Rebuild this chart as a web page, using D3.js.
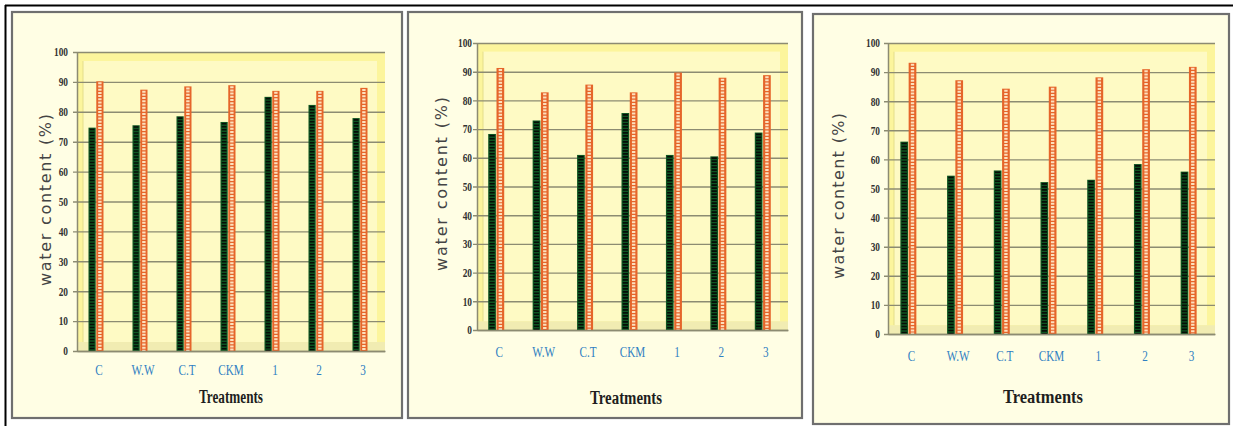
<!DOCTYPE html>
<html>
<head>
<meta charset="utf-8">
<script src="https://cdn.jsdelivr.net/npm/d3@7"></script>
<style>
  body { margin: 0; background: #ffffff; }
  svg { display: block; }
</style>
</head>
<body>
<svg id="chart" width="1233" height="426"></svg>
<script>
// Treatments on the x axis, shared by the three panels
const categories = ["C", "W.W", "C.T", "CKM", "1", "2", "3"];
const yTicks = [0, 10, 20, 30, 40, 50, 60, 70, 80, 90, 100];
const seriesKeys = ["green", "orange"];

// Water content (%) per treatment, one pair of series per panel
const greenP1  = [74.7, 75.5, 78.5, 76.6, 85.0, 82.3, 77.9];
const orangeP1 = [90.2, 87.4, 88.5, 88.9, 87.0, 87.0, 88.0];
const greenP2  = [68.3, 73.0, 61.0, 75.6, 61.0, 60.5, 68.8];
const orangeP2 = [91.3, 82.8, 85.5, 82.8, 89.7, 87.9, 88.8];
const greenP3  = [66.1, 54.4, 56.2, 52.2, 53.0, 58.4, 55.8];
const orangeP3 = [93.2, 87.2, 84.3, 85.0, 88.2, 91.0, 91.8];

const yTitle = "water content (%)";
const xTitle = "Treatments";

// Panel layout: frame box, plot box and label placement
const panels = [
  { frame: [12, 12, 402, 418], plot: { left: 77, right: 385, top: 52, bottom: 351 },
    green: greenP1, orange: orangeP1, yTitleX: 45, yTitleY: 200, yTitleLen: 172,
    xLabelY: 370, titleX: 231, titleY: 403, titleLen: 64, tickGap: 9, barW: 7 },
  { frame: [408, 12, 802, 418], plot: { left: 477, right: 788, top: 43, bottom: 330 },
    green: greenP2, orange: orangeP2, yTitleX: 441, yTitleY: 184, yTitleLen: 174,
    xLabelY: 352, titleX: 626, titleY: 404, titleLen: 72, tickGap: 5, barW: 7.5 },
  { frame: [813, 14, 1229, 424], plot: { left: 888, right: 1215, top: 43, bottom: 334 },
    green: greenP3, orange: orangeP3, yTitleX: 838, yTitleY: 196, yTitleLen: 166,
    xLabelY: 356, titleX: 1043, titleY: 403, titleLen: 80, tickGap: 8, barW: 7.5 }
];

const svg = d3.select("#chart");

// outer black frame lines (top and left)
svg.append("line").attr("x1", 5).attr("x2", 1233).attr("y1", 5.5).attr("y2", 5.5)
  .attr("stroke", "#000").attr("stroke-width", 2);
svg.append("line").attr("x1", 5.5).attr("x2", 5.5).attr("y1", 5).attr("y2", 426)
  .attr("stroke", "#000").attr("stroke-width", 2);

panels.forEach((p, i) => {
  const g = svg.append("g");
  const [fx0, fy0, fx1, fy1] = p.frame;
  const P = p.plot;

  // panel background and grey border
  g.append("rect").attr("x", fx0).attr("y", fy0)
    .attr("width", fx1 - fx0).attr("height", fy1 - fy0)
    .attr("fill", "#fffee4").attr("stroke", "#6f6f6f").attr("stroke-width", 2.2);

  const y = d3.scaleLinear().domain([0, 100]).range([P.bottom, P.top]);
  const x = d3.scaleBand().domain(categories).range([P.left, P.right]).padding(0);
  const pairW = p.barW * 2 + 1;
  const x1 = d3.scaleBand().domain(seriesKeys).range([0, pairW]).paddingInner(0.07);
  const depthShift = -3;

  // plot area: side band, back wall and floor
  g.append("rect").attr("x", P.left).attr("y", P.top)
    .attr("width", P.right - P.left).attr("height", P.bottom - P.top)
    .attr("fill", "#fcf59c");
  g.append("rect").attr("x", P.left + 6).attr("y", y(97))
    .attr("width", P.right - P.left - 14).attr("height", y(3) - y(97))
    .attr("fill", "#fefac4");
  g.append("line").attr("x1", P.left + 6).attr("x2", P.left + 6)
    .attr("y1", y(97)).attr("y2", y(3))
    .attr("stroke", "#e4dd8a").attr("stroke-width", 1);
  g.append("rect").attr("x", P.left).attr("y", y(3))
    .attr("width", P.right - P.left).attr("height", y(0) - y(3))
    .attr("fill", "#f1ecb2");

  // y axis with gridlines
  const yAxis = g.append("g")
    .attr("transform", `translate(${P.left},0)`)
    .call(d3.axisLeft(y).tickValues(yTicks)
      .tickSizeInner(-(P.right - P.left)).tickSizeOuter(0).tickPadding(p.tickGap));
  yAxis.select(".domain").attr("stroke", "#8c8b72").attr("stroke-width", 1.5);
  yAxis.selectAll(".tick line").attr("stroke", "#8c8b72").attr("stroke-width", 1.4)
    .attr("x1", -4);
  yAxis.selectAll(".tick text")
    .attr("font-family", "Liberation Serif, serif").attr("font-size", 12)
    .attr("font-weight", "bold").attr("fill", "#333")
    .attr("x", -p.tickGap / 0.78).attr("transform", "scale(0.78,1)");

  // bars
  const rows = categories.map((c, k) => ({ cat: c, green: p.green[k], orange: p.orange[k] }));
  const groups = g.selectAll(".grp").data(rows).join("g")
    .attr("transform", d => `translate(${x(d.cat) + x.bandwidth() / 2 - pairW / 2 + depthShift},0)`);

  const fills = { green: "#0e5421", orange: "#e5652a" };
  const dots = { green: "#050d06", orange: "#fde0bd" };
  const dotW = { green: p.barW - 2.2, orange: 3.4 };

  groups.selectAll("rect.bar").data(d => seriesKeys.map(k => ({ key: k, value: d[k] })))
    .join("rect").attr("class", "bar")
    .attr("x", d => x1(d.key)).attr("width", x1.bandwidth())
    .attr("y", d => y(d.value)).attr("height", d => y(0) - y(d.value))
    .attr("fill", d => fills[d.key]);

  groups.selectAll("line.tex").data(d => seriesKeys.map(k => ({ key: k, value: d[k] })))
    .join("line").attr("class", "tex")
    .attr("x1", d => x1(d.key) + x1.bandwidth() / 2)
    .attr("x2", d => x1(d.key) + x1.bandwidth() / 2)
    .attr("y1", d => y(d.value) + 1).attr("y2", y(0))
    .attr("stroke", d => dots[d.key]).attr("stroke-width", d => dotW[d.key])
    .attr("stroke-dasharray", d => d.key === "green" ? "1.6,1.4" : "2,1.2");

  // x axis
  const xAxis = g.append("g")
    .attr("transform", `translate(0,${P.bottom})`)
    .call(d3.axisBottom(x).tickSize(0).tickPadding(0));
  xAxis.select(".domain").attr("stroke", "#8c8b72").attr("stroke-width", 1.5);
  xAxis.selectAll(".tick text")
    .attr("y", p.xLabelY - P.bottom).attr("dy", "0.35em")
    .attr("font-family", "Liberation Serif, serif").attr("font-size", 14)
    .attr("fill", "#2f80c2").attr("transform", "scale(0.8,1)")
    .attr("x", 0);

  // axis titles
  g.append("text")
    .attr("transform", `translate(${p.yTitleX},${p.yTitleY}) rotate(-90)`)
    .attr("text-anchor", "middle").attr("dominant-baseline", "central")
    .attr("font-family", "DejaVu Sans, Verdana, sans-serif").attr("font-size", 16)
    .attr("fill", "#444")
    .attr("textLength", p.yTitleLen).attr("lengthAdjust", "spacing")
    .text(yTitle);

  g.append("text")
    .attr("x", p.titleX).attr("y", p.titleY)
    .attr("text-anchor", "middle")
    .attr("font-family", "Liberation Serif, serif").attr("font-size", 18)
    .attr("font-weight", "bold").attr("fill", "#1e1e1e")
    .attr("textLength", p.titleLen).attr("lengthAdjust", "spacingAndGlyphs")
    .text(xTitle);
});
</script>
</body>
</html>
